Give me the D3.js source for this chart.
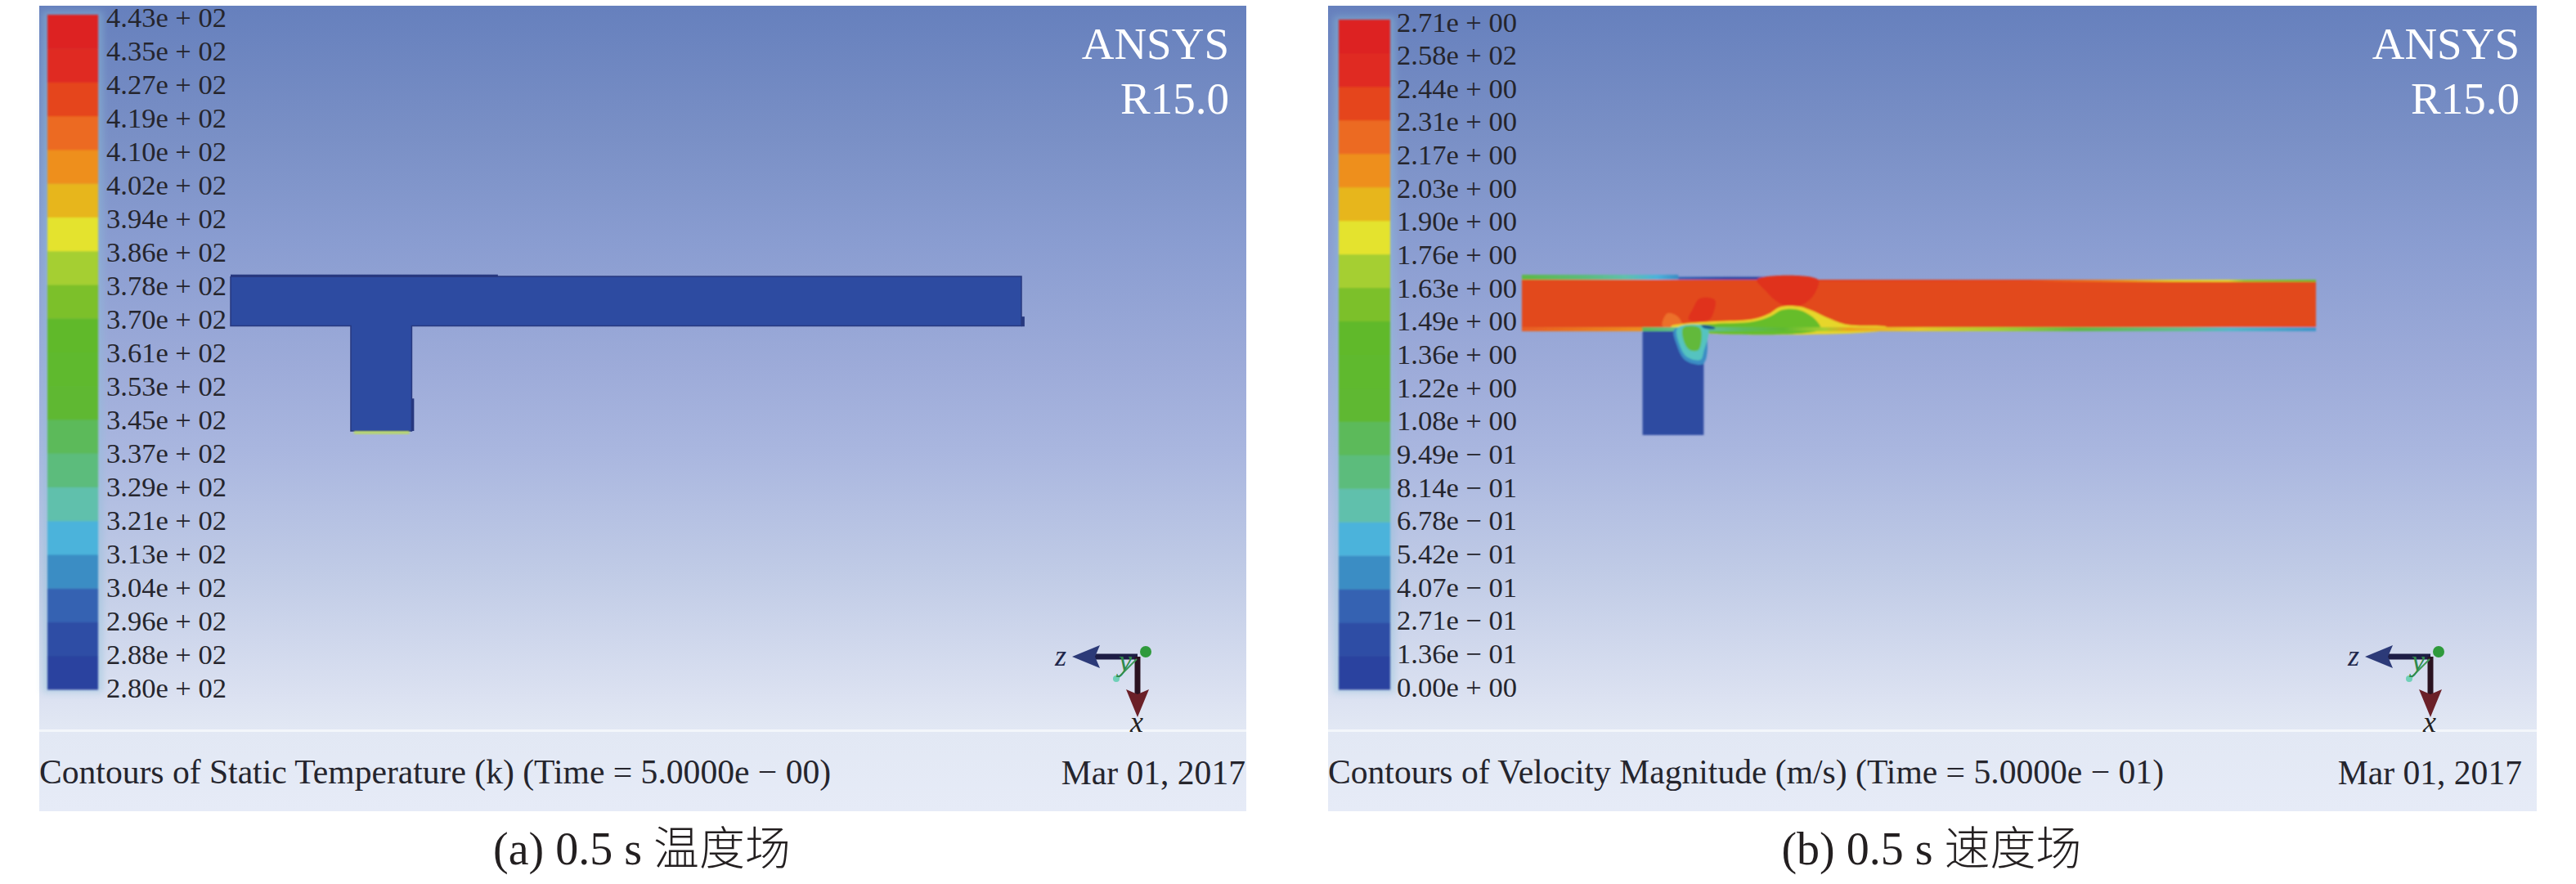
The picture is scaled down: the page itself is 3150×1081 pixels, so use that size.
<!DOCTYPE html>
<html>
<head>
<meta charset="utf-8">
<script src="https://cdnjs.cloudflare.com/ajax/libs/d3/7.8.5/d3.min.js"></script>
<style>
html, body { margin: 0; padding: 0; background: #fff; }
text { font-family: "Liberation Serif", "Noto Sans CJK SC", serif; }
</style>
</head>
<body>
<div class="chart"></div>
<script>
// colour bar labels, top to bottom
var tempTicks = ["4.43e + 02","4.35e + 02","4.27e + 02","4.19e + 02","4.10e + 02","4.02e + 02","3.94e + 02",
  "3.86e + 02","3.78e + 02","3.70e + 02","3.61e + 02","3.53e + 02","3.45e + 02","3.37e + 02","3.29e + 02",
  "3.21e + 02","3.13e + 02","3.04e + 02","2.96e + 02","2.88e + 02","2.80e + 02"];
var velTicks = ["2.71e + 00","2.58e + 02","2.44e + 00","2.31e + 00","2.17e + 00","2.03e + 00","1.90e + 00",
  "1.76e + 00","1.63e + 00","1.49e + 00","1.36e + 00","1.22e + 00","1.08e + 00","9.49e − 01","8.14e − 01",
  "6.78e − 01","5.42e − 01","4.07e − 01","2.71e − 01","1.36e − 01","0.00e + 00"];
var bandLevels = d3.range(20);

// T pipe in model units, z along the pipe (0-100), x down from pipe top (0-100)
var pipeOutline = [[0,0],[100,0],[100,32],[22.9,32],[22.9,100],[15.2,100],[15.2,32],[0,32]];

// velocity contours
var plumeHigh = [[29.6,0],[37.3,0],[37,7.7],[35.8,14.7],[33.9,17.6],[32.3,14.7],[30.8,7.7]];
var blobHigh = [[22.4,12.1],[24.3,13],[24.1,21.7],[23.6,25.6],[21,25.6],[21.5,19.1]];
var blobSide = [[18.3,21.7],[19.6,23.5],[20.2,30],[17.7,30]];
var wakeYellow = [[18.8,30],[20,28.6],[24.3,26.9],[29.1,25.4],[31.1,22],[32.5,17.6],[34.9,17.2],[36.6,20],[38.7,25],[41,29],[46,30.6],[46,32],[18.8,32]];
var wakeGreen = [[20,30.4],[24.3,28.4],[29.1,27],[31.3,23.6],[32.8,19.4],[34.7,19.2],[36,22],[37.2,27],[37.6,32],[20,32]];
var jetCool = [[19.2,32],[19.5,42],[20.6,52],[22.9,54],[22.9,32]];
var jetTeal = [[19.6,31],[19.8,41],[20.8,49.8],[22.5,51.6],[22.9,46.3],[23.4,31]];
var jetGreen = [[20.3,31],[20.5,41],[21.2,45.4],[22.2,45.4],[22.6,39.3],[22.4,31]];
var jetTip = [[22.6,29.2],[24.3,30.6],[24.3,31.6],[22.9,31.2]];

// wall colour along z: [z, level]
var topOuter = [[0,7.5],[8,6],[13,5],[17,4],[19.7,3]];
var topThin = [[19.7,2],[26,0],[33.8,0]];
var topEdge = [[33.8,17.2],[64,17],[73,15.6],[77,14.6],[82,13.4],[89,13.2],[91,11.5],[100,10.5]];
var bottomEdge = [[0,16.4],[15,15],[15.3,7],[22,5],[28,7],[33,8.5],[38,12],[41,14.4],[50,13.6],[60,12],[70,7.5],[84,5.5],[89,4.4],[100,3.2]];

// background ramp as [y, colour]
var skyStops = [[7,"#6680bd"],[170,"#7a90c6"],[300,"#8a9dd1"],[450,"#9dabd9"],[550,"#a9b6df"],
  [700,"#c0cbe6"],[850,"#dbe1f1"],[893,"#e2e8f4"],[992,"#e6ebf7"]];
var palette = ["#2b429f","#2d4ea5","#3462b2","#3b8dc4","#4cb3db","#60c0ac","#5cbc7c","#5cba5a","#5fb833","#5fb92d",
  "#60b92c","#7cc02c","#a5cf32","#e4e32d","#e7b61f","#ee8f1f","#ec6b20","#e5451f","#e02a20","#dd2424"];

var svg = d3.select(".chart").append("svg")
  .attr("width", 3150)
  .attr("height", 1081);

var defs = svg.append("defs");

var sky = defs.append("linearGradient")
  .attr("id", "sky")
  .attr("gradientUnits", "userSpaceOnUse")
  .attr("x1", 0).attr("x2", 0).attr("y1", 7).attr("y2", 992);
sky.selectAll("stop").data(skyStops).enter().append("stop")
  .attr("offset", function(d) { return (d[0] - 7) / 985; })
  .attr("stop-color", function(d) { return d[1]; });

defs.append("filter").attr("id", "soft").attr("x", "-5%").attr("y", "-20%").attr("width", "110%").attr("height", "140%")
  .append("feGaussianBlur").attr("stdDeviation", 1.3);
defs.append("filter").attr("id", "softer").attr("x", "-30%").attr("y", "-30%").attr("width", "160%").attr("height", "160%")
  .append("feGaussianBlur").attr("stdDeviation", 4);

var level = d3.scaleOrdinal(bandLevels, palette);
function levelColor(v) {
  var lo = Math.floor(v), hi = Math.min(19, Math.ceil(v));
  return d3.interpolateRgb(level(lo), level(hi))(v - lo);
}

function drawPanel(p) {
  var g = svg.append("g");

  g.append("rect")
    .attr("x", p.left).attr("y", 7)
    .attr("width", p.right - p.left).attr("height", 985)
    .attr("fill", "url(#sky)");

  // legend divider
  g.append("rect")
    .attr("x", p.left).attr("y", 892)
    .attr("width", p.right - p.left).attr("height", 3)
    .attr("fill", "#f3f6fb");

  // colour bar
  var yBand = d3.scaleBand(bandLevels.slice().reverse(), [p.barTop, p.barBottom]);
  g.append("rect")
    .attr("x", p.barLeft - 6).attr("y", p.barTop - 4)
    .attr("width", p.barRight - p.barLeft + 12).attr("height", p.barBottom - p.barTop + 8)
    .attr("fill", "#8fc0d8").attr("opacity", 0.45)
    .attr("filter", "url(#softer)");
  var bar = g.append("g").attr("filter", "url(#soft)");
  bar.selectAll("rect").data(bandLevels).enter().append("rect")
    .attr("x", p.barLeft)
    .attr("y", function(d) { return yBand(d); })
    .attr("width", p.barRight - p.barLeft)
    .attr("height", yBand.bandwidth() + 0.5)
    .attr("fill", function(d) { return level(d); });

  var yTick = d3.scalePoint(p.ticks, [p.tickTop, p.tickBottom]);
  var axis = g.append("g")
    .attr("transform", "translate(" + p.barRight + ",0)")
    .call(d3.axisRight(yTick).tickSize(0).tickPadding(p.tickGap));
  axis.select(".domain").remove();
  axis.selectAll("text")
    .attr("font-size", 34.5)
    .attr("dy", "0.32em")
    .attr("fill", "#25252d")
    .style("font-family", '"Liberation Serif", serif');

  // model scales
  var zs = d3.scaleLinear([0, 100], [p.pipeLeft, p.pipeRight]);
  var xs = d3.scaleLinear([0, 100], [p.pipeTop, p.branchBottom]);
  var outline = d3.line().x(function(d) { return zs(d[0]); }).y(function(d) { return xs(d[1]); });
  var smooth = d3.line().x(function(d) { return zs(d[0]); }).y(function(d) { return xs(d[1]); })
    .curve(d3.curveCatmullRomClosed.alpha(0.5));

  p.draw(g, zs, xs, outline, smooth);

  // triad
  var t = g.append("g").attr("transform", "translate(" + p.triad + ",803)");
  t.append("path").attr("d", "M0,0 L-58,0").attr("stroke", "#1d1d45").attr("stroke-width", 7).attr("fill", "none");
  t.append("path").attr("d", "M-80,0 L-46,-14 L-52,0 L-46,14 Z").attr("fill", "#2c3a78");
  t.append("path").attr("d", "M0,0 L0,50").attr("stroke", "#2a1220").attr("stroke-width", 7).attr("fill", "none");
  t.append("path").attr("d", "M0,74 L-14,40 L0,46 L14,40 Z").attr("fill", "#6b2028");
  t.append("path").attr("d", "M-1,3 L-25,27").attr("stroke", "#3d9a55").attr("stroke-width", 2).attr("fill", "none");
  t.append("circle").attr("cx", -26).attr("cy", 27).attr("r", 4).attr("fill", "#6fd0b8");
  t.append("circle").attr("cx", 10).attr("cy", -6).attr("r", 7).attr("fill", "#2f9a3c");
  t.append("text").attr("x", -94).attr("y", 11).attr("font-size", 36).attr("font-style", "italic").attr("text-anchor", "middle").attr("fill", "#20264a").text("z");
  t.append("text").attr("x", -15).attr("y", 17).attr("font-size", 36).attr("font-style", "italic").attr("text-anchor", "middle").attr("fill", "#2f8a4a").text("y");
  t.append("text").attr("x", -1).attr("y", 92).attr("font-size", 36).attr("font-style", "italic").attr("text-anchor", "middle").attr("fill", "#231f20").text("x");

  // titles
  g.append("text").attr("x", p.ansysRight).attr("y", 72).attr("text-anchor", "end")
    .attr("font-size", 55).attr("fill", "#fff").text("ANSYS");
  g.append("text").attr("x", p.ansysRight).attr("y", 139).attr("text-anchor", "end")
    .attr("font-size", 55).attr("fill", "#fff").text("R15.0");

  g.append("text").attr("x", p.left).attr("y", 958)
    .attr("font-size", 41.6).attr("fill", "#25252d").text(p.title);
  g.append("text").attr("x", p.dateRight).attr("y", 959).attr("text-anchor", "end")
    .attr("font-size", 41.6).attr("fill", "#25252d").text("Mar 01, 2017");

  svg.append("text").attr("x", p.captionX).attr("y", 1057).attr("text-anchor", "middle")
    .attr("font-size", 56).attr("font-weight", 300).attr("fill", "#231f20").text(p.caption);
}

function drawTemperature(g, zs, xs, outline) {
  var c = g.append("g");
  c.append("path").datum(pipeOutline.concat([pipeOutline[0]]))
    .attr("d", outline)
    .attr("fill", "#2d4ba1")
    .attr("stroke", "#27387f").attr("stroke-width", 1.5);
  // top step, right step, widened branch foot
  c.append("rect").attr("x", zs(0)).attr("y", xs(-1.2)).attr("width", zs(33.8) - zs(0)).attr("height", xs(0.5) - xs(-1.2)).attr("fill", "#27387f");
  c.append("rect").attr("x", zs(100)).attr("y", xs(26)).attr("width", zs(100.4) - zs(100)).attr("height", xs(32.4) - xs(26)).attr("fill", "#27387f");
  c.append("rect").attr("x", zs(22.9)).attr("y", xs(79)).attr("width", zs(23.2) - zs(22.9)).attr("height", xs(100) - xs(79)).attr("fill", "#27387f");
  // warm sliver on the inlet
  c.append("rect").attr("x", zs(15.6)).attr("y", xs(100)).attr("width", zs(22.6) - zs(15.6)).attr("height", xs(102) - xs(100))
    .attr("fill", "#b7d76a").attr("filter", "url(#soft)");
}

function drawVelocity(g, zs, xs, outline, smooth) {
  // wall strip: gradient along z built from the [z, level] lists
  function strip(parent, id, stops, x0, x1) {
    var z0 = stops[0][0], z1 = stops[stops.length - 1][0];
    var grad = defs.append("linearGradient")
      .attr("id", id)
      .attr("gradientUnits", "userSpaceOnUse")
      .attr("x1", zs(z0)).attr("x2", zs(z1)).attr("y1", 0).attr("y2", 0);
    grad.selectAll("stop").data(stops).enter().append("stop")
      .attr("offset", function(d) { return (d[0] - z0) / (z1 - z0); })
      .attr("stop-color", function(d) { return levelColor(d[1]); });
    parent.append("rect")
      .attr("x", zs(z0)).attr("y", xs(x0))
      .attr("width", zs(z1) - zs(z0)).attr("height", xs(x1) - xs(x0))
      .attr("fill", "url(#" + id + ")");
  }
  function blobs(parent, list) {
    parent.selectAll(null).data(list).enter().append("path")
      .attr("d", function(d) { return smooth(d[0]); })
      .attr("fill", function(d) { return d[1]; });
  }

  var c = g.append("g").attr("filter", "url(#soft)");

  c.append("rect").attr("x", zs(0)).attr("y", xs(0)).attr("width", zs(100) - zs(0)).attr("height", xs(30.8) - xs(0)).attr("fill", "#e2481f");
  c.append("rect").attr("x", zs(15.2)).attr("y", xs(32)).attr("width", zs(22.9) - zs(15.2)).attr("height", xs(100) - xs(32)).attr("fill", "#2d4ba1");

  strip(c, "topOuter", topOuter, -3.2, 0);
  strip(c, "topThin", topThin, -1.8, 0);
  strip(c, "topEdge", topEdge, 0, 1.4);

  blobs(c, [[blobSide, "#ec6f2a"], [plumeHigh, "#e0321f"], [blobHigh, "#e0321f"],
    [wakeYellow, "#e7d62c"], [wakeGreen, "#66bd2c"]]);

  strip(c, "bottomEdge", bottomEdge, 30.6, 33.2);

  blobs(c, [[jetCool, "#3b8dc4"], [jetTeal, "#55c3c0"], [jetGreen, "#62b93a"], [jetTip, "#1f5d8f"]]);
}

drawPanel({
  left: 48, right: 1524, barLeft: 58, barRight: 120, barTop: 18, barBottom: 843,
  tickTop: 21, tickBottom: 841, tickGap: 10, ticks: tempTicks,
  pipeLeft: 282, pipeRight: 1249, pipeTop: 338, branchBottom: 527,
  triad: 1391, ansysRight: 1503, dateRight: 1523, captionX: 785,
  title: "Contours of Static Temperature (k) (Time = 5.0000e − 00)",
  caption: "(a) 0.5 s 温度场", draw: drawTemperature
});
drawPanel({
  left: 1624, right: 3102, barLeft: 1637, barRight: 1700, barTop: 24, barBottom: 843,
  tickTop: 27, tickBottom: 840, tickGap: 8, ticks: velTicks,
  pipeLeft: 1861, pipeRight: 2832, pipeTop: 342, branchBottom: 532,
  triad: 2972, ansysRight: 3081, dateRight: 3084, captionX: 2362,
  title: "Contours of Velocity Magnitude (m/s) (Time = 5.0000e − 01)",
  caption: "(b) 0.5 s 速度场", draw: drawVelocity
});
</script>
</body>
</html>
